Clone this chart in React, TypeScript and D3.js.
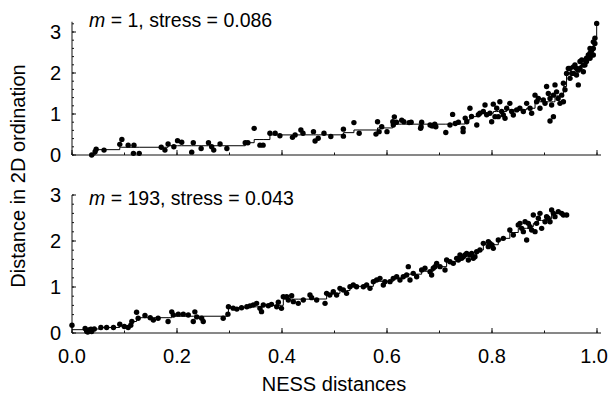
import React from "react";
import * as d3 from "d3";

// ---------- data ----------
const xTicks = [0, 0.2, 0.4, 0.6, 0.8, 1.0];
const yTicks = [0, 1, 2, 3];
const mValues = ["1", "193"];
const stressValues = ["0.086", "0.043"];
const xLabel = "NESS distances";
const yLabel = "Distance in 2D ordination";

const topPoints: [number, number][] = [
  [0.0375, 0.0], [0.044, 0.08], [0.046, 0.14], [0.061, 0.12], [0.091, 0.26], [0.095, 0.38],
  [0.107, 0.24], [0.118, 0.24], [0.117, 0.04], [0.128, 0.04], [0.170, 0.19], [0.177, 0.12],
  [0.183, 0.27], [0.194, 0.20], [0.201, 0.35], [0.209, 0.31], [0.228, 0.07], [0.231, 0.30],
  [0.246, 0.16], [0.260, 0.30], [0.266, 0.20], [0.270, 0.12], [0.282, 0.27], [0.295, 0.16],
  [0.330, 0.30], [0.335, 0.30], [0.347, 0.65], [0.358, 0.24], [0.364, 0.24], [0.377, 0.53],
  [0.387, 0.53], [0.396, 0.47], [0.420, 0.43], [0.425, 0.49], [0.436, 0.61], [0.440, 0.53],
  [0.460, 0.57], [0.463, 0.34], [0.469, 0.41], [0.480, 0.53], [0.493, 0.45], [0.517, 0.63],
  [0.517, 0.46], [0.537, 0.79], [0.547, 0.53], [0.582, 0.81], [0.590, 0.69], [0.585, 0.57],
  [0.579, 0.51], [0.600, 0.57], [0.614, 0.93], [0.611, 0.81], [0.612, 0.73], [0.618, 0.80],
  [0.628, 0.85], [0.632, 0.81], [0.642, 0.79], [0.646, 0.80], [0.664, 0.65], [0.666, 0.80],
  [0.682, 0.73], [0.687, 0.72], [0.691, 0.75], [0.693, 0.69], [0.712, 0.55], [0.725, 0.99],
  [0.720, 0.73], [0.730, 0.77], [0.736, 0.80], [0.745, 0.65], [0.745, 0.57], [0.749, 0.90],
  [0.752, 0.81], [0.758, 1.14], [0.761, 0.94], [0.771, 0.73], [0.774, 0.98], [0.777, 1.02],
  [0.7835, 1.06], [0.7867, 1.22], [0.7898, 0.98], [0.796, 1.02], [0.7994, 0.81], [0.8025, 1.24],
  [0.8057, 0.935], [0.809, 1.14], [0.815, 1.30], [0.812, 0.935], [0.8184, 1.06], [0.8216, 0.975],
  [0.8248, 0.895], [0.828, 1.14], [0.834, 1.26], [0.8375, 1.06], [0.8406, 0.975], [0.847, 1.10],
  [0.853, 1.14], [0.8597, 1.06], [0.866, 1.26], [0.8724, 1.14], [0.8755, 1.02], [0.882, 1.46],
  [0.885, 1.30], [0.8883, 1.38], [0.8914, 1.14], [0.8978, 1.34], [0.901, 1.26], [0.904, 1.67],
  [0.9073, 1.50], [0.9105, 1.38], [0.9136, 1.22], [0.9168, 1.46], [0.92, 1.71], [0.923, 1.54],
  [0.926, 1.38], [0.9295, 1.26], [0.9327, 1.46], [0.936, 1.30], [0.939, 1.59], [0.936, 1.75],
  [0.942, 1.99], [0.9454, 2.11], [0.9486, 1.87], [0.952, 1.99], [0.955, 2.15], [0.958, 2.195],
  [0.961, 1.95], [0.9644, 1.71], [0.9644, 2.07], [0.9676, 2.28], [0.971, 2.32], [0.974, 2.03],
  [0.977, 2.195], [0.980, 2.36], [0.9835, 2.44], [0.9867, 2.48], [0.99, 2.56], [0.993, 2.60],
  [0.996, 2.72], [0.996, 2.85], [0.993, 2.44], [0.9994, 3.21], [0.9105, 0.83], [0.917, 0.935],
  [0.9486, 2.11], [0.955, 1.99], [0.961, 2.11], [0.9676, 2.11], [0.974, 2.195], [0.980, 2.28],
  [0.9867, 2.60], [0.99, 2.44], [0.993, 2.76], [0.9867, 2.36], [0.665, 0.69], [0.686, 0.71],
];

const bottomPoints: [number, number][] = [
  [0.0, 0.17], [0.025, 0.10], [0.028, 0.04], [0.032, 0.065], [0.0375, 0.03], [0.0425, 0.087],
  [0.030, 0.02], [0.036, 0.08], [0.055, 0.12], [0.066, 0.12], [0.079, 0.12], [0.091, 0.19],
  [0.0996, 0.14], [0.107, 0.12], [0.112, 0.17], [0.114, 0.25], [0.123, 0.45], [0.126, 0.32],
  [0.139, 0.38], [0.149, 0.33], [0.155, 0.28], [0.164, 0.32], [0.183, 0.25], [0.190, 0.46],
  [0.193, 0.39], [0.2025, 0.41], [0.212, 0.41], [0.2215, 0.39], [0.234, 0.46], [0.2375, 0.35],
  [0.231, 0.25], [0.247, 0.32], [0.250, 0.25], [0.288, 0.32], [0.297, 0.41], [0.298, 0.57],
  [0.307, 0.54], [0.314, 0.52], [0.323, 0.55], [0.333, 0.57], [0.339, 0.59],
  [0.3454, 0.609], [0.3517, 0.645], [0.358, 0.536], [0.361, 0.464], [0.3644, 0.609], [0.374, 0.594],
  [0.380, 0.623], [0.390, 0.572], [0.393, 0.667], [0.399, 0.536], [0.4025, 0.79], [0.409, 0.79],
  [0.412, 0.717], [0.4184, 0.811], [0.4216, 0.681], [0.431, 0.645], [0.4406, 0.717], [0.4533, 0.826],
  [0.4565, 0.768], [0.466, 0.717], [0.482, 0.645], [0.485, 0.862], [0.491, 0.826], [0.4977, 0.898],
  [0.504, 0.826], [0.5104, 0.971], [0.5168, 0.935], [0.523, 0.862], [0.5295, 1.007], [0.5358, 1.043],
  [0.542, 1.007], [0.555, 1.007], [0.5612, 1.043], [0.5676, 0.971], [0.574, 1.116], [0.5803, 1.152],
  [0.5866, 1.188], [0.593, 1.043], [0.596, 1.116], [0.6057, 1.116], [0.612, 1.188], [0.6184, 1.224],
  [0.6247, 1.152], [0.631, 1.224], [0.6374, 1.26], [0.6406, 1.442], [0.6438, 1.152], [0.650, 1.297],
  [0.6565, 1.224], [0.666, 1.369], [0.6723, 1.406], [0.682, 1.333], [0.685, 1.261], [0.6914, 1.442],
  [0.6946, 1.514], [0.6882, 1.406], [0.701, 1.442], [0.7105, 1.37], [0.7136, 1.587], [0.72, 1.55],
  [0.7263, 1.514], [0.7327, 1.623], [0.739, 1.695], [0.7454, 1.659], [0.7517, 1.732], [0.758, 1.695],
  [0.7644, 1.623], [0.7708, 1.768], [0.777, 1.804], [0.7835, 1.949], [0.793, 1.985], [0.8, 1.913],
  [0.8025, 1.84], [0.812, 2.022], [0.8216, 2.058], [0.834, 2.239], [0.8406, 2.13], [0.85, 2.348],
  [0.8565, 2.275], [0.863, 2.42], [0.866, 2.022], [0.8724, 2.311], [0.8787, 2.565], [0.882, 2.203],
  [0.885, 2.384], [0.8914, 2.601], [0.8946, 2.275], [0.901, 2.42], [0.907, 2.493], [0.9136, 2.674],
  [0.92, 2.529], [0.9263, 2.638], [0.936, 2.565], [0.9422, 2.565], [0.7359, 1.587], [0.7422, 1.623],
  [0.7486, 1.695], [0.755, 1.587], [0.7613, 1.732], [0.7676, 1.659], [0.793, 1.877], [0.7962, 1.949],
  [0.8533, 2.384], [0.8597, 2.203], [0.8692, 2.384], [0.8755, 2.239], [0.8883, 2.493], [0.904, 2.529],
  [0.9105, 2.42], [0.917, 2.601], [0.9327, 2.601],
];

// ---------- helpers ----------
function isotonicFit(pts: [number, number][]): [number, number][] {
  const s = [...pts].sort((a, b) => a[0] - b[0]);
  const blocks: { sum: number; n: number }[] = [];
  for (const p of s) {
    blocks.push({ sum: p[1], n: 1 });
    while (blocks.length > 1) {
      const a = blocks[blocks.length - 2];
      const b = blocks[blocks.length - 1];
      if (a.sum / a.n > b.sum / b.n) {
        a.sum += b.sum;
        a.n += b.n;
        blocks.pop();
      } else break;
    }
  }
  const fit: number[] = [];
  for (const b of blocks) for (let i = 0; i < b.n; i++) fit.push(b.sum / b.n);
  return s.map((p, i) => [p[0], fit[i]]);
}

const FONT = "'Liberation Sans', Arial, Helvetica, sans-serif";
const W = 609;
const H = 395;
const xScale = d3.scaleLinear().domain([0, 1]).range([72, 597]);

type PanelProps = {
  points: [number, number][];
  y0: number;
  y3: number;
  axisTopVal: number;
  m: string;
  stress: string;
  titleY: number;
  showXLabels: boolean;
};

function Panel({ points, y0, y3, axisTopVal, m, stress, titleY, showXLabels }: PanelProps) {
  const y = d3.scaleLinear().domain([0, 3]).range([y0, y3]);
  const fit = isotonicFit(points);
  const line = d3
    .line<[number, number]>()
    .x((d) => xScale(d[0]))
    .y((d) => y(d[1]))
    .curve(d3.curveStepAfter);
  const minorX = d3.range(0, 1.0001, 0.1);
  const minorY = d3.range(0, axisTopVal + 0.0001, 0.2);
  const axisColor = "#111";
  return (
    <g>
      {/* y axis */}
      <line x1={72} x2={72} y1={y0} y2={y(axisTopVal)} stroke={axisColor} strokeWidth={1} />
      {minorY.map((v, i) => (
        <line key={"my" + i} x1={72} x2={74} y1={y(v)} y2={y(v)} stroke={axisColor} strokeWidth={1} />
      ))}
      {yTicks.map((v) => (
        <g key={"yt" + v}>
          <line x1={72} x2={76} y1={y(v)} y2={y(v)} stroke={axisColor} strokeWidth={1} />
          <text
            x={61}
            y={y(v)}
            dy="0.36em"
            textAnchor="end"
            fontFamily={FONT}
            fontSize={20}
            fill="#000"
          >
            {v}
          </text>
        </g>
      ))}
      {/* x axis */}
      <line x1={72} x2={601} y1={y0} y2={y0} stroke={axisColor} strokeWidth={1} />
      {minorX.map((v, i) => (
        <line key={"mx" + i} x1={xScale(v)} x2={xScale(v)} y1={y0} y2={y0 - 2.5} stroke={axisColor} strokeWidth={1} />
      ))}
      {xTicks.map((v, i) => {
        const last = i === xTicks.length - 1;
        return (
          <g key={"xt" + v}>
            <line x1={xScale(v)} x2={xScale(v)} y1={y0} y2={y0 - 5} stroke={axisColor} strokeWidth={1} />
            {showXLabels && (
              <text
                x={last ? Math.min(xScale(v) + 13, W - 1) : xScale(v)}
                y={363}
                textAnchor={last ? "end" : "middle"}
                fontFamily={FONT}
                fontSize={20}
                fill="#000"
              >
                {d3.format(".1f")(v)}
              </text>
            )}
          </g>
        );
      })}
      {/* step fit */}
      <path d={line(fit) || ""} fill="none" stroke="#000" strokeWidth={1} />
      {/* points */}
      {points.map((p, i) => (
        <circle key={i} cx={xScale(p[0])} cy={y(p[1])} r={2.7} fill="#000" />
      ))}
      {/* title */}
      <text x={89} y={titleY} fontFamily={FONT} fontSize={19.5} fill="#000">
        <tspan fontStyle="italic">m</tspan>
        <tspan>{` = ${m}, stress = ${stress}`}</tspan>
      </text>
    </g>
  );
}

export default function App() {
  return (
    <svg
      width={W}
      height={H}
      viewBox={`0 0 ${W} ${H}`}
      style={{ position: "absolute", left: 0, top: 0, background: "#fff" }}
    >
      <rect x={0} y={0} width={W} height={H} fill="#fff" />
      <Panel
        points={topPoints}
        y0={155}
        y3={32}
        axisTopVal={3.25}
        m={mValues[0]}
        stress={stressValues[0]}
        titleY={27}
        showXLabels={false}
      />
      <Panel
        points={bottomPoints}
        y0={333}
        y3={195}
        axisTopVal={3}
        m={mValues[1]}
        stress={stressValues[1]}
        titleY={205}
        showXLabels={true}
      />
      <text x={334} y={391} textAnchor="middle" fontFamily={FONT} fontSize={20} fill="#000">
        {xLabel}
      </text>
      <text
        transform="translate(25,176) rotate(-90)"
        textAnchor="middle"
        fontFamily={FONT}
        fontSize={20}
        fill="#000"
      >
        {yLabel}
      </text>
    </svg>
  );
}
